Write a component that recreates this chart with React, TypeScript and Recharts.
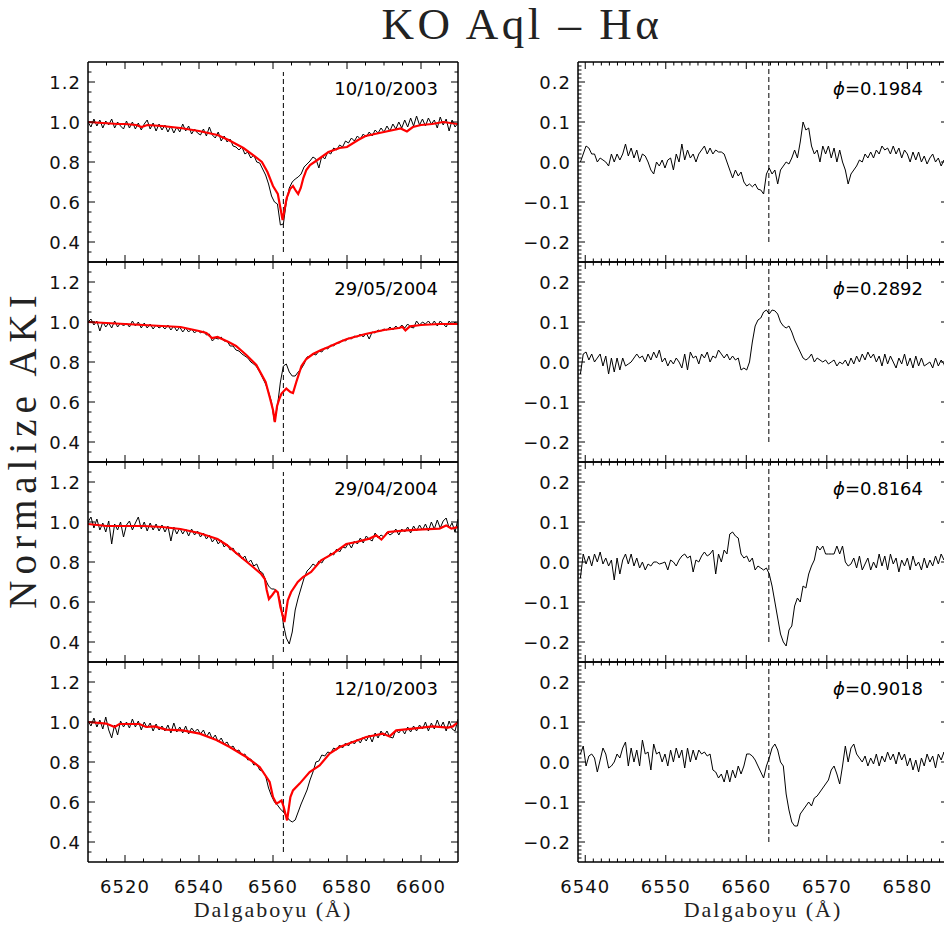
import React from 'react';
import { LineChart, Line, XAxis, YAxis, ReferenceLine } from 'recharts';

type Pair = [number, number];

// ---------- spectral grids (start wavelength + pixel step, as stored in the spectra) ----------
const OBS_START = 6510;
const OBS_STEP = 0.8;
const DIFF_START = 6539.4;
const DIFF_STEP = 0.35;
const H_ALPHA = 6562.8;

// ---------- labels ----------
const TITLE = 'KO Aql – Hα';
const Y_TITLE = 'Normalize AKI';
const X_TITLE = 'Dalgaboyu (Å)';
const DATES = ['10/10/2003', '29/05/2004', '29/04/2004', '12/10/2003'];
const PHASES = ['0.1984', '0.2892', '0.8164', '0.9018'];

// ---------- tick labels ----------
const LEFT_X_TICKS = [6520, 6540, 6560, 6580, 6600];
const LEFT_Y_TICKS = [0.4, 0.6, 0.8, 1.0, 1.2];
const RIGHT_X_TICKS = [6540, 6550, 6560, 6570, 6580];
const RIGHT_Y_TICKS = [-0.2, -0.1, 0.0, 0.1, 0.2];
const LEFT_X_DOMAIN: [number, number] = [6510, 6610];
const LEFT_Y_DOMAIN: [number, number] = [0.3, 1.3];
const RIGHT_X_DOMAIN: [number, number] = [6539.1, 6585.05];
const RIGHT_Y_DOMAIN: [number, number] = [-0.25, 0.25];

// ---------- observed spectra (black) ----------
const obs1 = [
  1.0, 0.975, 1.015, 0.98, 1.01, 0.97, 1.005, 0.985, 1.015, 0.97, 1.0, 0.98, 0.965,
  1.005, 0.97, 1.0, 0.965, 0.995, 0.96, 0.99, 1.01, 0.965, 0.995, 0.955, 0.99, 0.96,
  0.985, 0.95, 0.98, 0.945, 0.975, 0.95, 0.99, 0.955, 0.98, 0.94, 0.965, 0.945,
  0.935, 0.965, 0.93, 0.975, 0.935, 0.92, 0.95, 0.905, 0.93, 0.9, 0.915, 0.88, 0.875,
  0.86, 0.875, 0.84, 0.85, 0.82, 0.835, 0.8, 0.795, 0.765, 0.735,
  0.69, 0.63, 0.6, 0.59, 0.485, 0.49, 0.6, 0.67, 0.7, 0.715, 0.725, 0.74, 0.775, 0.79, 0.805,
  0.825, 0.815, 0.77, 0.83, 0.815, 0.85, 0.84, 0.87, 0.86, 0.885, 0.875, 0.905,
  0.895, 0.92, 0.905, 0.93, 0.915, 0.94, 0.925, 0.95, 0.93, 0.96, 0.945, 0.97, 0.95,
  0.98, 0.955, 0.99, 0.965, 1.0, 0.97, 1.01, 0.975, 1.02, 0.98, 1.03, 0.985,
  1.015, 0.98, 1.02, 0.99, 1.01, 0.97, 1.025, 0.985, 1.015, 0.955, 1.01, 0.975, 0.995,
];
const obs2 = [
  1.0, 1.015, 0.985, 1.005, 0.955, 1.0, 0.975, 0.995, 0.97, 1.005, 0.975, 0.995, 0.98,
  0.995, 0.975, 1.005, 0.98, 1.0, 0.97, 0.995, 0.97, 0.99, 0.965, 0.985, 0.97, 0.98,
  0.965, 0.985, 0.96, 0.98, 0.955, 0.975, 0.95, 0.97, 0.95, 0.965, 0.945, 0.96,
  0.945, 0.955, 0.935, 0.94, 0.905, 0.92, 0.915, 0.925, 0.905, 0.905, 0.88, 0.88, 0.86,
  0.855, 0.84, 0.83, 0.82, 0.8, 0.79, 0.775, 0.75, 0.72, 0.69,
  0.65, 0.6, 0.5, 0.58, 0.7, 0.78, 0.79, 0.75, 0.73, 0.73, 0.75, 0.765, 0.79, 0.825, 0.83,
  0.84, 0.835, 0.855, 0.85, 0.87, 0.865, 0.885, 0.88, 0.895, 0.895, 0.91, 0.905,
  0.92, 0.915, 0.93, 0.925, 0.94, 0.925, 0.945, 0.915, 0.95, 0.945, 0.96, 0.955, 0.965,
  0.96, 0.975, 0.96, 0.98, 0.965, 0.985, 0.97, 0.99, 0.975, 0.97, 1.005, 0.985,
  1.0, 0.99, 1.005, 0.985, 1.005, 0.98, 1.005, 0.99, 0.975, 1.005, 0.985, 1.0, 0.99,
];
const obs3 = [
  1.0, 1.025, 0.97, 1.015, 0.96, 0.995, 0.95, 1.005, 0.89, 0.99, 0.96, 1.0, 0.925,
  0.985, 1.005, 0.96, 0.995, 1.025, 0.965, 1.0, 0.955, 0.995, 0.96, 0.99, 0.955, 0.985,
  0.95, 0.98, 0.905, 0.975, 0.94, 0.97, 0.94, 0.965, 0.93, 0.965, 0.935, 0.955,
  0.925, 0.945, 0.915, 0.935, 0.9, 0.92, 0.89, 0.91, 0.875, 0.89, 0.86, 0.87, 0.84,
  0.845, 0.815, 0.83, 0.795, 0.81, 0.78, 0.79, 0.755, 0.745, 0.71,
  0.68, 0.665, 0.665, 0.65, 0.6, 0.49, 0.42, 0.39, 0.45, 0.56, 0.62, 0.67, 0.72, 0.755, 0.77,
  0.79, 0.78, 0.805, 0.795, 0.82, 0.825, 0.845, 0.835, 0.865, 0.85, 0.875, 0.87,
  0.895, 0.87, 0.905, 0.89, 0.92, 0.895, 0.93, 0.915, 0.905, 0.945, 0.92, 0.935, 0.925,
  0.95, 0.935, 0.945, 0.965, 0.935, 0.965, 0.95, 0.975, 0.945, 0.98, 0.955, 0.985,
  0.96, 0.99, 0.955, 1.0, 0.965, 1.01, 0.97, 1.005, 1.02, 0.97, 0.995, 0.95, 1.015,
];
const obs4 = [
  1.005, 0.98, 1.02, 0.975, 1.01, 0.965, 1.025, 0.96, 0.92, 0.985, 0.935, 1.005, 0.975,
  1.0, 0.97, 1.015, 0.975, 1.005, 0.96, 1.0, 0.97, 0.995, 0.955, 0.99, 0.96, 0.98,
  0.955, 0.985, 0.945, 0.995, 0.95, 0.975, 0.945, 0.98, 0.94, 0.97, 0.95, 0.965,
  0.94, 0.96, 0.925, 0.95, 0.915, 0.935, 0.9, 0.92, 0.89, 0.9, 0.87, 0.88, 0.855,
  0.86, 0.835, 0.84, 0.81, 0.815, 0.785, 0.79, 0.76, 0.755, 0.73,
  0.67, 0.63, 0.6, 0.585, 0.565, 0.55, 0.53, 0.51, 0.5, 0.51, 0.55, 0.59, 0.625, 0.66, 0.71,
  0.75, 0.8, 0.805, 0.835, 0.83, 0.85, 0.845, 0.87, 0.86, 0.885, 0.87, 0.895,
  0.88, 0.905, 0.89, 0.915, 0.895, 0.925, 0.905, 0.935, 0.9, 0.945, 0.92, 0.955, 0.93,
  0.955, 0.925, 0.92, 0.96, 0.945, 0.965, 0.94, 0.975, 0.95, 0.98, 0.955, 0.985,
  0.965, 1.0, 0.955, 0.995, 0.965, 1.01, 0.97, 1.0, 0.955, 1.005, 0.965, 0.955, 1.015,
];

// ---------- model spectra (red): [wavelength, flux] ----------
const model1: Pair[] = [
  [6510, 1.0], [6514, 0.995], [6518, 0.99], [6520, 0.99], [6523, 0.985], [6524.5, 0.975], [6526, 0.985],
  [6530, 0.98], [6535, 0.97], [6540, 0.955], [6545, 0.935], [6548, 0.91], [6550, 0.89], [6552, 0.87],
  [6555, 0.83], [6557, 0.8], [6558.5, 0.75], [6560, 0.68], [6561.3, 0.64], [6562.6, 0.51], [6563.7, 0.62],
  [6564.6, 0.665], [6565.4, 0.68], [6566.2, 0.655], [6566.8, 0.64], [6567.5, 0.67], [6568.2, 0.72],
  [6569, 0.76], [6570, 0.785], [6572, 0.81], [6575, 0.85], [6578, 0.87], [6580, 0.875], [6583, 0.91],
  [6585, 0.93], [6590, 0.95], [6594.5, 0.968], [6596.2, 0.953], [6597.8, 0.975], [6600, 0.985],
  [6603, 0.99], [6606, 1.0], [6610, 0.99],
];
const model2: Pair[] = [
  [6510, 1.0], [6515, 0.995], [6520, 0.99], [6525, 0.985], [6530, 0.98], [6535, 0.975], [6540, 0.955],
  [6542, 0.945], [6543.5, 0.92], [6545, 0.925], [6548, 0.9], [6550, 0.88], [6552.8, 0.835], [6555.5, 0.785],
  [6558, 0.7], [6559.1, 0.625], [6560, 0.56], [6560.5, 0.5], [6561.1, 0.58], [6561.7, 0.615], [6562.3, 0.642],
  [6563.6, 0.667], [6564.7, 0.65], [6565.4, 0.645], [6566.3, 0.7], [6567.7, 0.78], [6569, 0.815],
  [6570.8, 0.84], [6573, 0.86], [6575, 0.875], [6578, 0.9], [6580, 0.915], [6585, 0.94], [6590, 0.96],
  [6594, 0.97], [6595, 0.975], [6595.8, 0.958], [6597, 0.978], [6600, 0.985], [6605, 0.99], [6610, 0.99],
];
const model3: Pair[] = [
  [6510, 0.99], [6515, 0.98], [6520, 0.98], [6525, 0.98], [6530, 0.975], [6535, 0.965], [6540, 0.945],
  [6545, 0.915], [6547.5, 0.885], [6551, 0.83], [6554.6, 0.775], [6556.8, 0.74], [6557.8, 0.715],
  [6558.3, 0.66], [6558.9, 0.615], [6559.8, 0.635], [6560.7, 0.658], [6561.3, 0.648], [6562, 0.575],
  [6563.1, 0.5], [6564, 0.608], [6564.9, 0.65], [6566.7, 0.7], [6568.1, 0.725], [6570.3, 0.75],
  [6573, 0.808], [6576.2, 0.842], [6579.8, 0.89], [6582.5, 0.9], [6586.1, 0.917], [6587.9, 0.933],
  [6589.3, 0.912], [6591.1, 0.95], [6596, 0.958], [6600.5, 0.963], [6605, 0.967], [6606.8, 0.983],
  [6608.2, 0.967], [6610, 0.975],
];
const model4: Pair[] = [
  [6510, 1.0], [6514.9, 0.992], [6517.2, 0.975], [6518.5, 0.99], [6523.9, 0.99], [6525.7, 0.975],
  [6528, 0.978], [6531.1, 0.962], [6535.6, 0.958], [6540.2, 0.942], [6544.7, 0.91], [6548.3, 0.875],
  [6552.8, 0.825], [6556.4, 0.775], [6559.1, 0.7], [6560, 0.625], [6560.9, 0.592], [6561.7, 0.6],
  [6562.3, 0.608], [6562.9, 0.575], [6563.8, 0.508], [6564.7, 0.625], [6565.4, 0.658], [6567.2, 0.692],
  [6569.9, 0.75], [6572.6, 0.783], [6575.3, 0.842], [6578, 0.875], [6581.6, 0.9], [6585.2, 0.925],
  [6589.7, 0.942], [6591.5, 0.928], [6593.3, 0.958], [6597.8, 0.967], [6603.2, 0.978], [6607.3, 0.972],
  [6608.6, 0.978], [6610, 1.0],
];

// ---------- difference spectra (right column) ----------
const diff1 = [
  0.0, 0.02, 0.04, 0.035, 0.02, 0.02, 0.0, 0.01, 0.005, 0.0,
  -0.01, 0.02, 0.0, 0.02, 0.005, 0.02, 0.045, 0.015, 0.035, 0.01,
  0.03, 0.0, 0.02, 0.015, 0.0, -0.02, -0.03, 0.0, -0.01, 0.005,
  -0.015, 0.005, 0.01, -0.02, 0.02, 0.0, 0.045, 0.005, 0.03, 0.01,
  0.02, 0.0, 0.02, 0.03, 0.04, 0.02, 0.035, 0.02, 0.03, 0.025,
  0.025, 0.02, 0.0, -0.02, -0.04, -0.02, -0.035, -0.025, -0.05, -0.06,
  -0.055, -0.062, -0.055, -0.068, -0.07, -0.08, -0.03, -0.015, -0.03, -0.02,
  -0.055, -0.02, -0.01, 0.0, -0.005, 0.01, 0.03, 0.01, 0.05, 0.1,
  0.08, 0.085, 0.04, 0.02, 0.03, 0.0, 0.04, 0.02, 0.04, 0.01,
  0.035, 0.0, 0.03, 0.0, -0.02, -0.055, -0.03, -0.02, -0.01, 0.005,
  0.0, 0.02, 0.01, 0.025, 0.01, 0.03, 0.02, 0.04, 0.03, 0.035,
  0.02, 0.04, 0.02, 0.035, 0.01, 0.03, 0.02, 0.0, 0.025, 0.005,
  0.025, 0.0, 0.015, -0.005, 0.01, 0.02, 0.0, 0.01, -0.01, 0.005,
  -0.01, 0.0,
];
const diff2 = [
  -0.03, 0.02, 0.025, 0.005, 0.02, 0.0, 0.01, 0.02, -0.01, 0.015,
  -0.03, 0.01, -0.025, 0.01, -0.02, 0.01, -0.01, -0.005, 0.0, 0.01,
  0.02, 0.01, 0.015, 0.0, 0.02, 0.005, 0.025, 0.01, 0.03, 0.0,
  0.01, -0.01, 0.005, -0.005, 0.01, 0.0, -0.015, 0.02, -0.02, 0.025,
  0.01, 0.015, -0.005, 0.02, 0.01, 0.025, 0.0, 0.015, 0.01, 0.03,
  0.02, 0.01, 0.02, 0.005, 0.015, 0.005, 0.01, -0.02, -0.015, -0.02,
  0.0, 0.05, 0.09, 0.105, 0.11, 0.125, 0.13, 0.12, 0.13, 0.128,
  0.12, 0.1, 0.09, 0.085, 0.09, 0.075, 0.055, 0.04, 0.025, 0.01,
  0.005, 0.01, 0.02, 0.0, 0.01, 0.005, 0.0, 0.005, -0.005, 0.0,
  0.005, -0.01, 0.0, -0.005, 0.005, -0.01, 0.01, -0.005, 0.015, 0.0,
  0.02, 0.005, 0.025, 0.01, 0.02, 0.0, 0.015, -0.01, 0.02, -0.005,
  0.015, 0.0, -0.015, 0.01, -0.005, 0.02, -0.01, 0.01, -0.015, 0.015,
  -0.01, 0.01, -0.01, -0.005, 0.0, -0.015, 0.01, -0.01, 0.005, -0.005,
  -0.03, -0.02,
];
const diff3 = [
  -0.04, 0.02, -0.005, 0.015, -0.01, 0.02, 0.0, 0.025, -0.005, 0.01,
  -0.01, 0.005, -0.045, 0.01, -0.03, 0.005, 0.02, -0.005, 0.02, -0.01,
  0.01, -0.015, 0.0, -0.02, -0.005, -0.01, 0.0, 0.0, -0.005, -0.003,
  0.0, -0.02, 0.005, 0.0, -0.01, 0.005, 0.015, 0.02, 0.01, 0.015,
  -0.025, 0.005, 0.0, 0.015, 0.025, 0.015, 0.02, 0.03, -0.03, 0.02,
  0.0, 0.03, 0.02, 0.07, 0.075, 0.065, 0.06, 0.02, 0.01, 0.015,
  0.0, 0.01, -0.02, -0.01, -0.015, -0.02, -0.015, -0.03, -0.06, -0.1,
  -0.14, -0.18, -0.2, -0.21, -0.17, -0.16, -0.11, -0.09, -0.1, -0.06,
  -0.065, -0.03, -0.01, 0.005, 0.04, 0.03, 0.04, 0.02, 0.02, 0.02,
  0.02, 0.04, 0.02, 0.04, 0.0, -0.01, -0.005, 0.01, -0.015, 0.015,
  -0.02, -0.005, 0.01, -0.02, 0.0, -0.015, 0.02, -0.01, 0.015, -0.02,
  0.02, -0.005, 0.01, -0.025, 0.005, -0.01, 0.01, -0.02, 0.015, -0.01,
  0.0, -0.02, 0.01, -0.015, 0.005, -0.01, 0.015, -0.005, 0.02, 0.005,
  0.02, 0.0,
];
const diff4 = [
  0.02, 0.04, -0.01, 0.015, 0.02, 0.01, -0.025, 0.005, 0.035, 0.02,
  -0.015, -0.01, 0.0, 0.02, 0.01, 0.035, 0.05, -0.01, 0.035, 0.0,
  0.03, -0.01, 0.055, 0.02, 0.025, -0.02, 0.045, 0.02, 0.025, 0.0,
  0.02, -0.01, 0.03, 0.0, 0.035, 0.01, 0.03, -0.015, 0.035, 0.0,
  0.03, 0.005, 0.03, 0.02, 0.025, 0.015, 0.02, -0.02, -0.025, -0.04,
  -0.03, -0.05, -0.02, -0.05, -0.02, -0.04, -0.01, -0.03, -0.01, 0.02,
  0.02, 0.015, 0.005, -0.01, -0.025, -0.04, -0.01, 0.01, 0.035, 0.045,
  0.03, 0.0, -0.01, -0.08, -0.12, -0.15, -0.16, -0.16, -0.13, -0.12,
  -0.11, -0.1, -0.11, -0.09, -0.085, -0.075, -0.065, -0.055, -0.045, -0.02,
  -0.01, -0.03, -0.055, -0.01, 0.04, 0.0, 0.035, 0.045, 0.02, 0.01,
  0.0, 0.015, -0.01, 0.01, -0.005, 0.02, -0.01, 0.015, 0.0, 0.025,
  0.005, 0.02, -0.005, 0.025, 0.005, 0.02, -0.01, 0.01, -0.02, 0.005,
  -0.025, 0.01, -0.01, 0.02, 0.0, 0.015, -0.015, 0.02, 0.005, 0.025,
  -0.02, 0.0,
];

const OBS = [obs1, obs2, obs3, obs4];
const MODELS = [model1, model2, model3, model4];
const DIFFS = [diff1, diff2, diff3, diff4];

// ---------- helpers ----------
const gridSeries = (start: number, step: number, vals: number[]) =>
  vals.map((v, i) => ({ w: +(start + i * step).toFixed(3), f: v }));
const pairSeries = (pairs: Pair[]) => pairs.map(([w, f]) => ({ w, f }));
const minorRange = (a: number, b: number, s: number) => {
  const out: number[] = [];
  const n = Math.round((b - a) / s);
  for (let i = 0; i <= n; i++) out.push(+(a + i * s).toFixed(4));
  return out;
};

const LEFT_X_ALL = minorRange(6515, 6605, 5);
const LEFT_Y_ALL = minorRange(0.35, 1.25, 0.05);
const RIGHT_X_ALL = minorRange(6540, 6585, 1);
const RIGHT_Y_ALL = minorRange(-0.24, 0.24, 0.01);

const TICK_FONT = "'DejaVu Sans', sans-serif";
const SERIF = "'Liberation Serif', serif";

const fmtLeftY = (v: number) => v.toFixed(1);
const fmtRightY = (v: number) => (v < -1e-9 ? '\u2212' + Math.abs(v).toFixed(1) : Math.abs(v).toFixed(1));
const fmtX = (v: number) => String(Math.round(v));

type Orient = 'top' | 'bottom' | 'left' | 'right';

const makeTick = (orient: Orient, majors: number[], showLabels: boolean, fmt: (v: number) => string) =>
  (props: any) => {
    const { x, y, payload } = props;
    const v = payload.value as number;
    const major = majors.some((m) => Math.abs(m - v) < 1e-6);
    const len = major ? 7 : 3.5;
    let x2 = x;
    let y2 = y;
    if (orient === 'bottom') y2 = y - len;
    if (orient === 'top') y2 = y + len;
    if (orient === 'left') x2 = x + len;
    if (orient === 'right') x2 = x - len;
    let label: React.ReactNode = null;
    if (showLabels && major) {
      if (orient === 'bottom') {
        label = (
          <text x={x} y={y + 30.5} textAnchor="middle" fontFamily={TICK_FONT} fontSize={18} letterSpacing={1} fill="#111">
            {fmt(v)}
          </text>
        );
      } else if (orient === 'left') {
        label = (
          <text x={x - 7} y={y + 6.5} textAnchor="end" fontFamily={TICK_FONT} fontSize={18} letterSpacing={1} fill="#111">
            {fmt(v)}
          </text>
        );
      }
    }
    return (
      <g>
        <line x1={x} y1={y} x2={x2} y2={y2} stroke="#000" strokeWidth={1} />
        {label}
      </g>
    );
  };

const PANEL_TOP0 = 61.5;
const PANEL_H = 200;
const PLOT_W = 370;

function Panel({ col, row }: { col: 'L' | 'R'; row: number }) {
  const isL = col === 'L';
  const top = PANEL_TOP0 + row * PANEL_H;
  const bottomRow = row === 3;
  const chartTop = top - 12;
  const chartH = 12 + PANEL_H + (bottomRow ? 40 : 12);
  const chartLeft = isL ? 0 : 480;
  const chartW = isL ? 470 : 520;
  const plotLeft = isL ? 88 : 578;
  const margin = {
    top: 11,
    bottom: chartH - 12 - PANEL_H - 1,
    left: plotLeft - chartLeft - 1,
    right: chartW - (plotLeft - chartLeft) - PLOT_W - 1,
  };
  const xDomain = isL ? LEFT_X_DOMAIN : RIGHT_X_DOMAIN;
  const yDomain = isL ? LEFT_Y_DOMAIN : RIGHT_Y_DOMAIN;
  const xAll = isL ? LEFT_X_ALL : RIGHT_X_ALL;
  const yAll = isL ? LEFT_Y_ALL : RIGHT_Y_ALL;
  const xMaj = isL ? LEFT_X_TICKS : RIGHT_X_TICKS;
  const yMaj = isL ? LEFT_Y_TICKS : RIGHT_Y_TICKS;
  const yFmt = isL ? fmtLeftY : fmtRightY;
  const axisLine = { stroke: '#000', strokeWidth: 1.5 };

  const black = isL ? gridSeries(OBS_START, OBS_STEP, OBS[row]) : gridSeries(DIFF_START, DIFF_STEP, DIFFS[row]);
  const red = isL ? pairSeries(MODELS[row]) : null;

  return (
    <div style={{ position: 'absolute', left: chartLeft, top: chartTop, width: chartW, height: chartH }}>
      <LineChart width={chartW} height={chartH} margin={margin}>
        <XAxis
          xAxisId="b"
          orientation="bottom"
          dataKey="w"
          type="number"
          domain={xDomain}
          allowDataOverflow
          ticks={xAll}
          interval={0}
          height={1}
          tickSize={0}
          tickMargin={0}
          tickLine={false}
          axisLine={axisLine}
          tick={makeTick('bottom', xMaj, bottomRow, fmtX)}
        />
        <XAxis
          xAxisId="t"
          orientation="top"
          dataKey="w"
          type="number"
          domain={xDomain}
          allowDataOverflow
          ticks={xAll}
          interval={0}
          height={1}
          tickSize={0}
          tickMargin={0}
          tickLine={false}
          axisLine={axisLine}
          tick={makeTick('top', xMaj, false, fmtX)}
        />
        <YAxis
          yAxisId="l"
          orientation="left"
          type="number"
          domain={yDomain}
          allowDataOverflow
          ticks={yAll}
          interval={0}
          width={1}
          tickSize={0}
          tickMargin={0}
          tickLine={false}
          axisLine={axisLine}
          tick={makeTick('left', yMaj, true, yFmt)}
        />
        <YAxis
          yAxisId="r"
          orientation="right"
          type="number"
          domain={yDomain}
          allowDataOverflow
          ticks={yAll}
          interval={0}
          width={1}
          tickSize={0}
          tickMargin={0}
          tickLine={false}
          axisLine={axisLine}
          tick={makeTick('right', yMaj, false, yFmt)}
        />
        <ReferenceLine
          xAxisId="b"
          yAxisId="l"
          segment={isL ? [{ x: H_ALPHA, y: 0.35 }, { x: H_ALPHA, y: 1.25 }] : [{ x: H_ALPHA, y: -0.2 }, { x: H_ALPHA, y: 0.25 }]}
          stroke="#000"
          strokeWidth={1}
          strokeDasharray="5 3"
        />
        <Line
          xAxisId="b"
          yAxisId="l"
          data={black}
          dataKey="f"
          type="linear"
          stroke="#000"
          strokeWidth={1}
          dot={false}
          activeDot={false}
          isAnimationActive={false}
        />
        {red && (
          <Line
            xAxisId="b"
            yAxisId="l"
            data={red}
            dataKey="f"
            type="linear"
            stroke="#ff0000"
            strokeWidth={2.2}
            dot={false}
            activeDot={false}
            isAnimationActive={false}
          />
        )}
      </LineChart>
    </div>
  );
}

export default function App() {
  const rows = [0, 1, 2, 3];
  return (
    <div style={{ position: 'absolute', left: 0, top: 0, width: 944, height: 928, overflow: 'hidden', background: '#fff' }}>
      {rows.map((r) => (
        <Panel key={'L' + r} col="L" row={r} />
      ))}
      {rows.map((r) => (
        <Panel key={'R' + r} col="R" row={r} />
      ))}
      <svg width={944} height={928} style={{ position: 'absolute', left: 0, top: 0, pointerEvents: 'none' }}>
        <text x={522} y={39} textAnchor="middle" fontFamily={SERIF} fontSize={45} letterSpacing={3.5} fill="#222">
          {TITLE}
        </text>
        <text
          x={36}
          y={449}
          textAnchor="middle"
          fontFamily={SERIF}
          fontSize={39}
          letterSpacing={6}
          fill="#222"
          transform="rotate(-90 36 449)"
        >
          {Y_TITLE}
        </text>
        <text x={273} y={917} textAnchor="middle" fontFamily={SERIF} fontSize={22} letterSpacing={2} fill="#222">
          {X_TITLE}
        </text>
        <text x={763} y={917} textAnchor="middle" fontFamily={SERIF} fontSize={22} letterSpacing={2} fill="#222">
          {X_TITLE}
        </text>
        {DATES.map((d, i) => (
          <text
            key={d}
            x={438}
            y={PANEL_TOP0 + i * PANEL_H + 33.5}
            textAnchor="end"
            fontFamily={TICK_FONT}
            fontSize={18}
            fill="#000"
          >
            {d}
          </text>
        ))}
        {PHASES.map((p, i) => (
          <text
            key={p}
            x={923}
            y={PANEL_TOP0 + i * PANEL_H + 33.5}
            textAnchor="end"
            fontFamily={TICK_FONT}
            fontSize={18}
            fill="#000"
          >
            <tspan fontStyle="italic">ϕ</tspan>
            {'=' + p}
          </text>
        ))}
      </svg>
    </div>
  );
}
